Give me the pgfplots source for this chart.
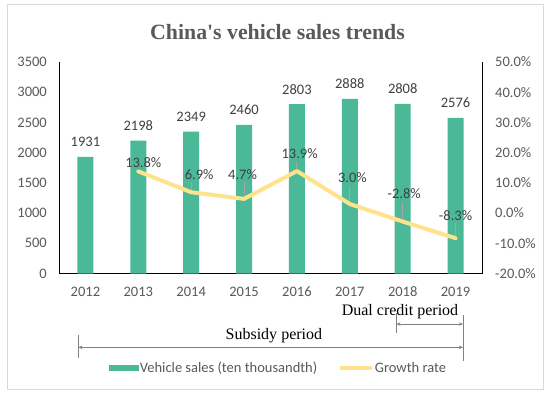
\documentclass[border=0pt]{standalone}
\usepackage{pgfplots}
\pgfplotsset{compat=1.18}
\usetikzlibrary{arrows.meta}
\usepackage{fontspec}
\setmainfont{Carlito}
\newfontfamily\serif{Liberation Serif}
\definecolor{barteal}{RGB}{75,184,152}
\definecolor{lineyel}{RGB}{255,226,140}
\definecolor{tickgray}{RGB}{89,89,89}
\definecolor{lblgray}{RGB}{64,64,64}
\definecolor{bordergray}{RGB}{217,217,217}
\definecolor{arrgray}{RGB}{128,128,128}
\definecolor{leadgray}{RGB}{166,166,166}
\newcommand\lbl{\fontsize{14.5bp}{17bp}\selectfont}
\pgfplotsset{/pgf/number format/assume math mode=true, /pgf/number format/1000 sep={}}

\begin{document}
\begin{tikzpicture}[x=1bp,y=1bp]
\path[use as bounding box] (0,0) rectangle (550,399);
\draw[bordergray, line width=1bp] (7,10) rectangle (543,394);
\node[anchor=base, text=tickgray, font=\serif\bfseries\fontsize{21.8bp}{26bp}\selectfont] at (277.5,359.5) {China's vehicle sales trends};

\begin{axis}[
  at={(59bp,125.5bp)}, anchor=south west, scale only axis,
  width=423bp, height=211.5bp,
  xmin=-0.5, xmax=7.5, ymin=0, ymax=3500,
  axis x line*=bottom, axis y line*=left,
  axis line style={-, black, line width=1bp},
  major tick length=0pt,
  xtick={0,1,2,3,4,5,6,7},
  xticklabels={2012,2013,2014,2015,2016,2017,2018,2019},
  ytick={0,500,1000,1500,2000,2500,3000,3500},
  yticklabels={0,500,1000,1500,2000,2500,3000,3500},
  tick label style={font=\lbl, text=tickgray, inner sep=0pt},
  xticklabel style={anchor=base, yshift=-23bp},
  yticklabel style={anchor=east, xshift=-12bp},
  ybar, bar width=16bp,
  nodes near coords,
  every node near coord/.append style={font=\lbl, text=lblgray, anchor=base, inner sep=0pt, yshift=10bp},
  legend style={at={(0.5177,-0.4468)}, anchor=center, draw=none, fill=none,
    font=\lbl, text=tickgray, legend columns=2,
    /tikz/every even column/.append style={column sep=20bp},
    inner sep=0pt, nodes={inner sep=1bp}},
  legend cell align=left,
  clip=false,
]
\addplot[fill=barteal, draw=none, bar shift=0pt,
  legend image code/.code={\fill[barteal] (0bp,-3.3bp) rectangle (30bp,3.3bp);}]
  table {
x y
0 1931
1 2198
2 2349
3 2460
4 2803
5 2888
6 2808
7 2576
};
\addlegendentry{Vehicle sales (ten thousandth)}
\addlegendimage{legend image code/.code={\draw[lineyel, line width=4bp] (0bp,0bp) -- (31.6bp,0bp);}}
\addlegendentry{Growth rate}
\end{axis}

\begin{axis}[
  at={(59bp,125.5bp)}, anchor=south west, scale only axis,
  width=423bp, height=211.5bp,
  xmin=-0.5, xmax=7.5, ymin=-20, ymax=50,
  axis x line=none, axis y line*=right,
  axis line style={-, black, line width=1bp},
  major tick length=0pt,
  ytick={-20,-10,0,10,20,30,40,50},
  yticklabels={-20.0\%,-10.0\%,0.0\%,10.0\%,20.0\%,30.0\%,40.0\%,50.0\%},
  tick label style={font=\lbl, text=tickgray, inner sep=0pt},
  yticklabel style={anchor=west, xshift=13bp},
  clip=false,
]
\addplot[leadgray, line width=0.9bp, no markers, quiver={u=\thisrow{u}, v=\thisrow{v}}]
  table {
x y u v
2 7.23 0 2.98
3 5.03 0 5.2
4 14.23 0 2.65
5 3.33 0 5.63
6 -2.47 0 6.12
7 -7.97 0 4.63
};
\addplot[lineyel, line width=4bp, line join=round, line cap=round, no markers,
  point meta=y,
  visualization depends on={\thisrow{dx} \as \dx},
  visualization depends on={\thisrow{dy} \as \dy},
  nodes near coords={\pgfmathprintnumber[fixed,fixed zerofill,precision=1]{\pgfplotspointmeta}\%},
  every node near coord/.append style={anchor=center, xshift=\dx bp, yshift=\dy bp, font=\lbl, text=lblgray, inner sep=0pt}]
  table {
x y dx dy
1 13.8 5 8.5
2 6.9 8 18
3 4.7 -1.5 24.7
4 13.9 2.7 17
5 3.0 2.6 26
6 -2.8 1.5 27.5
7 -8.3 0 23
};
\end{axis}

\draw[arrgray, line width=0.8bp] (396,86) -- (396,66);
\draw[arrgray, line width=0.8bp] (463.3,84) -- (463.3,38.3);
\draw[arrgray, line width=0.8bp] (78,64) -- (78,41);
\draw[arrgray, line width=0.8bp, {Stealth[length=4bp,width=3.5bp]}-{Stealth[length=4bp,width=3.5bp]}] (396.4,75) -- (462.9,75);
\draw[arrgray, line width=0.8bp, {Stealth[length=4bp,width=3.5bp]}-{Stealth[length=4bp,width=3.5bp]}] (78.4,51.7) -- (462.9,51.7);
\node[anchor=base, font=\serif\fontsize{16bp}{19bp}\selectfont] at (400,84) {Dual credit period};
\node[anchor=base, font=\serif\fontsize{16bp}{19bp}\selectfont] at (273.9,59.7) {Subsidy period};
\end{tikzpicture}
\end{document}
